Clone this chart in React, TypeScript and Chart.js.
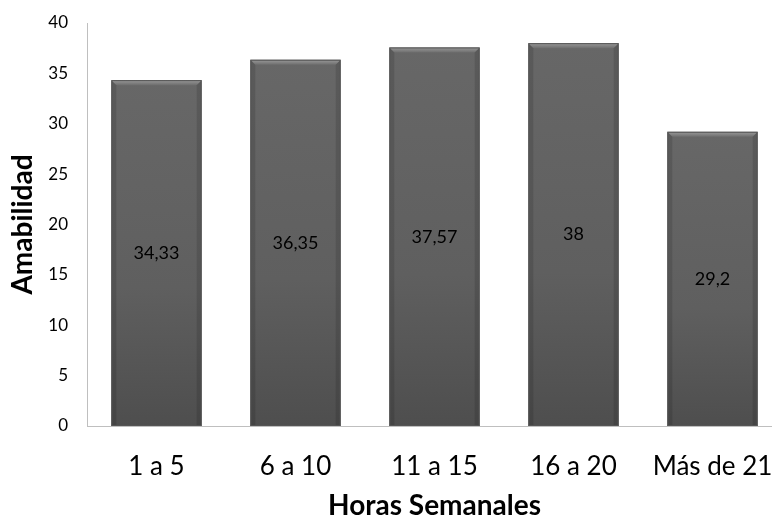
import React, { useEffect, useRef } from "react";
import { Chart, registerables } from "chart.js";

Chart.register(...registerables);

const categories = ["1 a 5", "6 a 10", "11 a 15", "16 a 20", "Más de 21"];
const values = [34.33, 36.35, 37.57, 38, 29.2];
const valueLabels = ["34,33", "36,35", "37,57", "38", "29,2"];
const yTicks = [0, 5, 10, 15, 20, 25, 30, 35, 40];

const FONT = "Lato, 'Open Sans', sans-serif";

const barStyle = {
  id: "barStyle",
  afterDatasetsDraw(chart: any) {
    const ctx = chart.ctx;
    const meta = chart.getDatasetMeta(0);
    meta.data.forEach((bar: any, i: number) => {
      const { x, y, base, width } = bar.getProps(["x", "y", "base", "width"], true);
      const l = x - width / 2;
      const r = x + width / 2;
      ctx.save();
      const g = ctx.createLinearGradient(0, y, 0, base);
      g.addColorStop(0, "#676767");
      g.addColorStop(0.6, "#5f5f5f");
      g.addColorStop(1, "#4e4e4e");
      ctx.fillStyle = g;
      ctx.fillRect(l, y, width, base - y);
      const b = 5;
      ctx.beginPath();
      ctx.moveTo(l, y);
      ctx.lineTo(r, y);
      ctx.lineTo(r - b, y + b);
      ctx.lineTo(l + b, y + b);
      ctx.closePath();
      const tg = ctx.createLinearGradient(0, y, 0, y + b);
      tg.addColorStop(0, "#9a9a9a");
      tg.addColorStop(1, "#6e6e6e");
      ctx.fillStyle = tg;
      ctx.fill();
      ctx.fillStyle = "rgba(0,0,0,0.12)";
      ctx.beginPath();
      ctx.moveTo(l, y);
      ctx.lineTo(l + b, y + b);
      ctx.lineTo(l + b, base);
      ctx.lineTo(l, base);
      ctx.closePath();
      ctx.fill();
      ctx.beginPath();
      ctx.moveTo(r, y);
      ctx.lineTo(r - b, y + b);
      ctx.lineTo(r - b, base);
      ctx.lineTo(r, base);
      ctx.closePath();
      ctx.fill();
      ctx.strokeStyle = "#555555";
      ctx.lineWidth = 1;
      ctx.strokeRect(l + 0.5, y + 0.5, width - 1, base - y - 1);
      ctx.fillStyle = "#000000";
      ctx.font = "18px " + FONT;
      ctx.textAlign = "center";
      ctx.textBaseline = "middle";
      ctx.fillText(valueLabels[i], x, (y + base) / 2);
      ctx.restore();
    });
  },
};

export default function App() {
  const ref = useRef<HTMLCanvasElement>(null);
  useEffect(() => {
    if (!ref.current) return;
    const chart = new Chart(ref.current, {
      type: "bar",
      data: {
        labels: categories,
        datasets: [
          {
            data: values,
            backgroundColor: "rgba(0,0,0,0)",
            borderWidth: 0,
            categoryPercentage: 1,
            barPercentage: 0.65,
          },
        ],
      },
      options: {
        animation: false,
        responsive: false,
        maintainAspectRatio: false,
        layout: { padding: { top: 23, right: 0, bottom: 0, left: 0 } },
        plugins: { legend: { display: false }, tooltip: { enabled: false } },
        scales: {
          x: {
            grid: { display: false, drawTicks: false },
            border: { display: true, color: "#bfbfbf", width: 1 },
            ticks: { color: "#000", font: { family: FONT, size: 26 }, padding: 25, maxRotation: 0 },
            title: {
              display: true,
              text: "Horas Semanales",
              color: "#000",
              font: { family: FONT, size: 28, weight: "bold", lineHeight: 1 },
              padding: 0,
            },
            afterFit(scale: any) {
              scale.height = 94;
              scale.paddingLeft = 0;
              scale.paddingRight = 0;
            },
          },
          y: {
            min: 0,
            max: 40,
            afterBuildTicks(scale: any) {
              scale.ticks = yTicks.map((v) => ({ value: v }));
            },
            grid: { display: false, drawTicks: false },
            border: { display: true, color: "#bfbfbf", width: 1 },
            ticks: { color: "#000", font: { family: FONT, size: 17 }, padding: 19 },
            title: {
              display: true,
              text: "Amabilidad",
              color: "#000",
              font: { family: FONT, size: 28, weight: "bold", lineHeight: 1 },
              padding: { top: 9, bottom: 0 },
            },
            afterFit(scale: any) {
              scale.width = 87;
              scale.paddingTop = 0;
              scale.paddingBottom = 0;
            },
          },
        },
      },
      plugins: [barStyle],
    });
    return () => chart.destroy();
  }, []);
  return (
    <div style={{ position: "fixed", left: 0, top: 0, width: 772, height: 520, overflow: "hidden", background: "#fff" }}>
      <canvas ref={ref} width={782} height={520} style={{ display: "block" }} />
    </div>
  );
}
